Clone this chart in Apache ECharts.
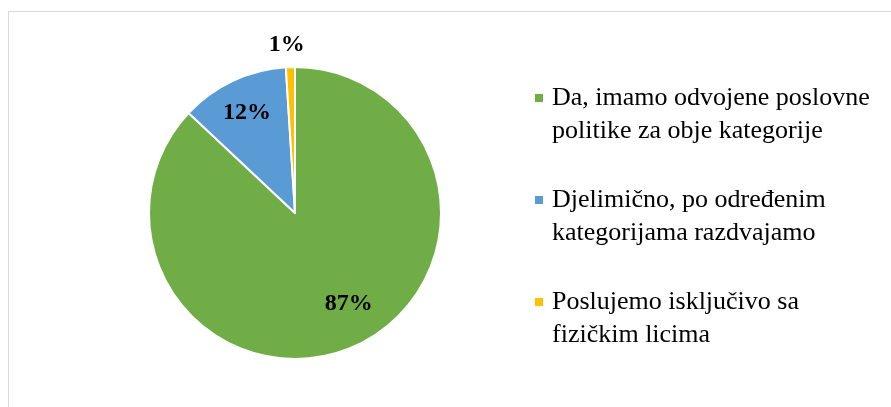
<!DOCTYPE html>
<html>
<head>
<meta charset="utf-8">
<script src="https://cdn.jsdelivr.net/npm/echarts@6/dist/echarts.min.js"></script>
<style>
  html, body { margin: 0; padding: 0; background: #fff; }
  .wrap { position: relative; width: 891px; height: 407px; overflow: hidden; }
  .chart-cls { width: 891px; height: 407px; }
  .frame {
    position: absolute; left: 8px; top: 11px; width: 1000px; height: 500px;
    border: 1px solid #d9d9d9; pointer-events: none;
  }
</style>
</head>
<body>
<div class="wrap">
  <div class="chart-cls" id="pie"></div>
  <div class="frame"></div>
</div>
<script>
const categories = [
  "Da, imamo odvojene poslovne\npolitike za obje kategorije",
  "Djelimično, po određenim\nkategorijama razdvajamo",
  "Poslujemo isključivo sa\nfizičkim licima",
];
const values = [87, 12, 1];
const colors = ["#70AD47", "#5B9BD5", "#FFC000"];
// which label ring each slice uses: inner = inside the pie, outer = just outside it
const labelRing = ["inner", "inner", "outer"];
// small nudges of the label text, like Excel's best-fit placement
const labelNudge = [[9, -12], [0, 2], [-3, 0]];

const center = [295, 213];
const radius = 146;
const serif = "'Liberation Serif', 'DejaVu Serif', serif";

const pieData = categories.map((name, i) => ({
  name: name,
  value: values[i],
  itemStyle: { color: colors[i] },
}));

// transparent copies of the pie, only used to place the percentage labels
const labelSeries = (ring, r) => ({
  type: "pie",
  center: center,
  radius: r,
  startAngle: 90,
  silent: true,
  animation: false,
  emphasis: { disabled: true },
  itemStyle: { color: "transparent", borderWidth: 0 },
  labelLine: { show: false },
  data: categories.map((name, i) => ({
    name: name,
    value: values[i],
    label: {
      show: labelRing[i] === ring,
      position: "inside",
      offset: labelNudge[i],
      formatter: "{c}%",
      color: "#000",
      fontFamily: serif,
      fontWeight: "bold",
      fontSize: 24,
    },
  })),
});

const rich = {
  t: { fontFamily: serif, fontSize: 26, lineHeight: 33, color: "#000" },
  s: { width: 9 },
  ind: { width: 17 },
};
colors.forEach((c, i) => {
  rich["m" + i] = { width: 8, height: 8, backgroundColor: c, verticalAlign: "middle" };
});

const chart = echarts.init(document.getElementById("pie"), null, { renderer: "canvas" });
chart.setOption({
  backgroundColor: "#fff",
  animation: false,
  legend: {
    orient: "vertical",
    left: 524,
    top: 80,
    itemWidth: 0,
    itemHeight: 0,
    itemGap: 43,
    selectedMode: false,
    data: categories,
    formatter: (name) => {
      const i = categories.indexOf(name);
      const lines = name.split("\n");
      return "{m" + i + "|}{s|}{t|" + lines[0] + "}\n{ind|}{t|" + lines[1] + "}";
    },
    textStyle: { rich: rich },
  },
  series: [
    {
      type: "pie",
      center: center,
      radius: radius,
      startAngle: 90,
      itemStyle: { borderColor: "#fff", borderWidth: 2 },
      label: { show: false },
      labelLine: { show: false },
      emphasis: { disabled: true },
      data: pieData,
    },
    labelSeries("inner", [radius * 0.5, radius]),
    labelSeries("outer", [radius * 1.08, radius * 1.18]),
  ],
});
</script>
</body>
</html>
